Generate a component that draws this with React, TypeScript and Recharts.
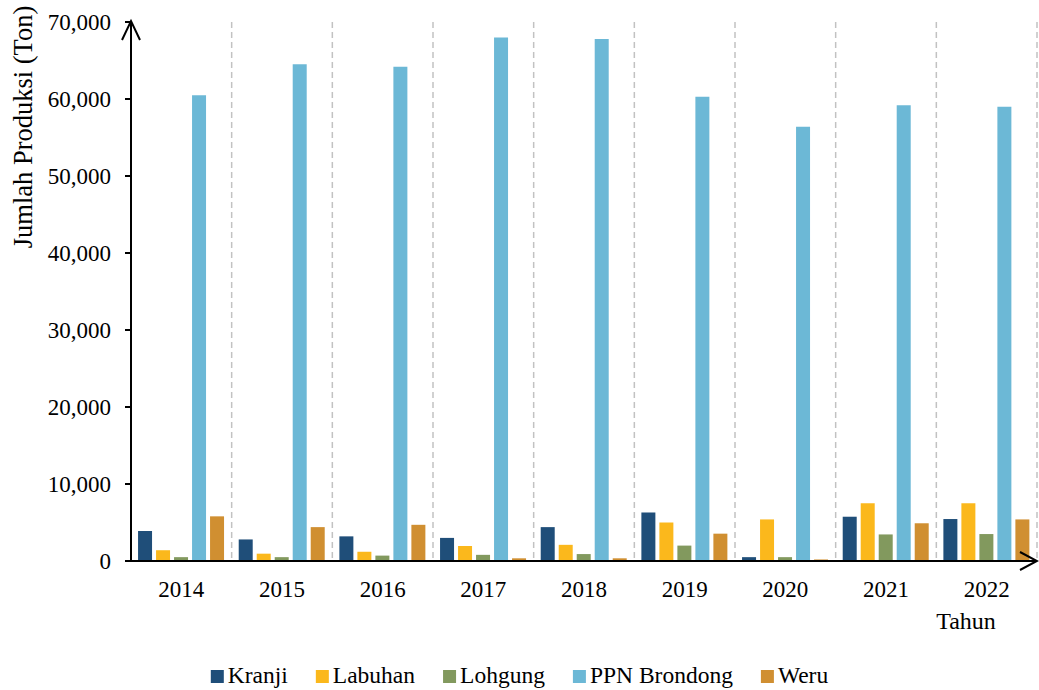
import { Bar, BarChart, CartesianGrid, Legend, XAxis, YAxis } from "recharts";

const tahun = ["2014", "2015", "2016", "2017", "2018", "2019", "2020", "2021", "2022"];
const kranji = [3900, 2800, 3200, 3000, 4400, 6300, 500, 5750, 5450];
const labuhan = [1400, 950, 1200, 1950, 2100, 5000, 5400, 7500, 7500];
const lohgung = [500, 500, 700, 800, 900, 2000, 500, 3450, 3500];
const ppnBrondong = [60500, 64500, 64200, 68000, 67800, 60300, 56400, 59200, 59000];
const weru = [5800, 4400, 4700, 350, 350, 3550, 200, 4900, 5400];
const yTicks = [0, 10000, 20000, 30000, 40000, 50000, 60000, 70000];

const seri = [
  { key: "Kranji", warna: "#1f4e79" },
  { key: "Labuhan", warna: "#fbb81c" },
  { key: "Lohgung", warna: "#82995e" },
  { key: "PPN Brondong", warna: "#6cb8d6" },
  { key: "Weru", warna: "#d08f31" },
];

const data = tahun.map((t, i) => ({
  tahun: t,
  Kranji: kranji[i],
  Labuhan: labuhan[i],
  Lohgung: lohgung[i],
  "PPN Brondong": ppnBrondong[i],
  Weru: weru[i],
}));

const font = "Liberation Serif";

function LabelY(props: any) {
  const vb = props.viewBox;
  const ax = vb.x + vb.width;
  const top = vb.y - 1;
  return (
    <g>
      <path d={`M${ax - 9},${top + 19} L${ax},${top} L${ax + 9},${top + 19}`} fill="none" stroke="#000" strokeWidth={2} />
      <text
        transform="rotate(-90)"
        x={-127}
        y={32}
        textAnchor="middle"
        fontSize={26.5}
        fontFamily={font}
        fill="#000"
      >
        Jumlah Produksi (Ton)
      </text>
    </g>
  );
}

function LabelX(props: any) {
  const vb = props.viewBox;
  const ex = vb.x + vb.width;
  const y = vb.y;
  return (
    <g>
      <path d={`M${ex - 17},${y - 9} L${ex},${y} L${ex - 17},${y + 9}`} fill="none" stroke="#000" strokeWidth={2} />
      <text x={966} y={629} textAnchor="middle" fontSize={24} fontFamily={font} fill="#000">
        Tahun
      </text>
    </g>
  );
}

// legend digambar sebagai svg supaya hurufnya sama dengan sumbu
function IsiLegend(props: any) {
  const items = props.payload || [];
  const ctx = document.createElement("canvas").getContext("2d");
  if (ctx) ctx.font = `23.5px "${font}"`;
  const lebar = items.map((it: any) => (ctx ? ctx.measureText(String(it.value)).width : 60));
  const kotak = 13;
  const jarak = 4;
  const antar = 28;
  const total = lebar.reduce((a: number, w: number) => a + kotak + jarak + w, 0) + antar * (items.length - 1);
  let x = (1039 - total) / 2;
  return (
    <svg width={1039} height={28} style={{ display: "block" }}>
      {items.map((it: any, i: number) => {
        const x0 = x;
        x += kotak + jarak + lebar[i] + antar;
        return (
          <g key={it.value}>
            <rect x={x0} y={7} width={kotak} height={kotak} fill={it.color} />
            <text x={x0 + kotak + jarak} y={20} fontSize={23.5} fontFamily={font} fill="#000">
              {it.value}
            </text>
          </g>
        );
      })}
    </svg>
  );
}

export default function App() {
  return (
    <div>
      <style>{"body{margin:0}"}</style>
      <BarChart
        width={1039}
        height={690}
        data={data}
        margin={{ top: 22, right: 2, left: 0, bottom: 89 }}
        barCategoryGap="7%"
        barGap={4}
      >
        <CartesianGrid
          horizontal={false}
          stroke="#c2c2c2"
          strokeWidth={1.5}
          strokeDasharray="6 4"
          verticalCoordinatesGenerator={({ offset }: any) =>
            tahun.map((_, i) => offset.left + (offset.width * (i + 1)) / tahun.length)
          }
        />
        <XAxis
          dataKey="tahun"
          height={40}
          tickLine={false}
          tickMargin={14}
          axisLine={{ stroke: "#000", strokeWidth: 2 }}
          tick={{ fill: "#000", fontSize: 23, fontFamily: font }}
          label={<LabelX />}
        />
        <YAxis
          width={131}
          domain={[0, 70000]}
          ticks={yTicks}
          tickSize={6}
          tickMargin={14}
          tickFormatter={(v: number) => v.toLocaleString("en-US")}
          axisLine={{ stroke: "#000", strokeWidth: 2 }}
          tickLine={{ stroke: "#000", strokeWidth: 2 }}
          tick={{ fill: "#000", fontSize: 23, fontFamily: font }}
          label={<LabelY />}
        />
        <Legend
          layout="horizontal"
          verticalAlign="middle"
          align="center"
          content={<IsiLegend />}
          wrapperStyle={{ top: 663, left: 0, width: 1039 }}
        />
        {seri.map((s) => (
          <Bar key={s.key} dataKey={s.key} fill={s.warna} isAnimationActive={false} />
        ))}
      </BarChart>
    </div>
  );
}
